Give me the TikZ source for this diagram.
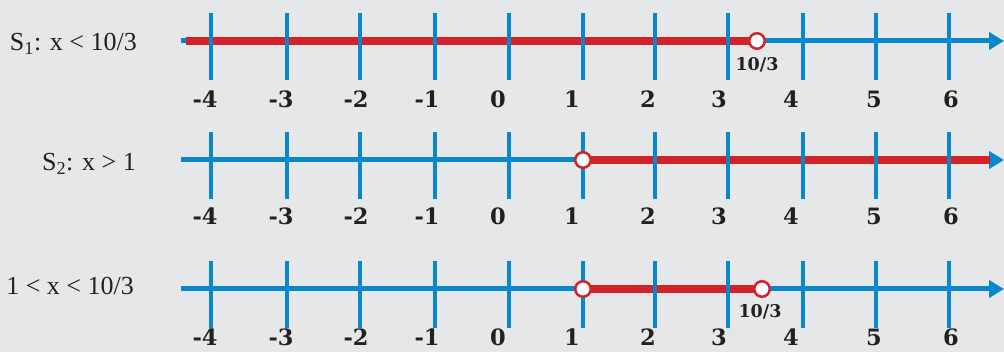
\documentclass[tikz,border=0pt]{standalone}
\usepackage{fontspec}
\setmainfont{Liberation Serif}
\newfontfamily\numfont{DejaVu Serif}
\usetikzlibrary{arrows.meta, positioning}
\definecolor{lineBlue}{HTML}{0788CE}
\definecolor{setRed}{HTML}{D2232A}
\definecolor{paperGrey}{HTML}{E6E7E8}
\definecolor{inkDark}{HTML}{231F20}
\tikzset{
  numaxis/.style={draw=lineBlue, line width=5pt, -{Triangle[length=15pt,width=17pt]}},
  tickmark/.style={draw=lineBlue, line width=4.8pt},
  solset/.style={draw=setRed, line width=7.5pt},
  openpt/.style={circle, draw=setRed, fill=white, line width=2.5pt, inner sep=0pt, minimum size=15.5pt},
  setlabel/.style={anchor=base east, inner sep=0pt, text=inkDark, font=\fontsize{26}{30}\selectfont},
  numlabel/.style={inner sep=0pt, text=inkDark, font=\numfont\bfseries\fontsize{22.5}{26}\selectfont},
  fraclabel/.style={inner sep=0pt, text=inkDark, font=\numfont\bfseries\fontsize{17.5}{20}\selectfont},
}

\begin{document}
\begin{tikzpicture}[x=1pt, y=-1pt]
\fill[paperGrey] (0,0) rectangle (1004,352);
\clip (0,0) rectangle (1004,352);
% set labels
\node[setlabel] (s1) at (137,51) {S\textsubscript{1}: x < 10/3};
\node[setlabel] (s2) at (136,171) {S\textsubscript{2}: x > 1};
\node[setlabel] (s12) at (134,295) {1 < x < 10/3};
% number lines
\foreach \row/\yy in {1/41, 2/160, 3/289} {
  \coordinate (a\row) at (181,\yy);
  \coordinate (e\row) at (1004,\yy);
  \draw[numaxis] (a\row) -- (e\row);
}
% solution sets
\coordinate (r1) at (186,41);
\coordinate (p1) at (757,41);
\coordinate (p2) at (583,160);
\coordinate (r2) at (990,160);
\coordinate (p3) at (583,289);
\coordinate (q3) at (762,289);
\draw[solset] (r1) -- (p1);
\draw[solset] (p2) -- (r2);
\draw[solset] (p3) -- (q3);
% ticks and numbers
\foreach \row/\yy/\dy in {1/41/58, 2/160/56, 3/289/48}
  \foreach \tx/\lx/\v in {211/205/-4, 287/281/-3, 360/356/-2, 435/427/-1, 509/498/0,
                          583/572/1, 655/648/2, 728/719/3, 803/791/4, 876/874/5, 949/951/6} {
    \draw[tickmark] (\tx,\yy-28) -- (\tx,\yy+39);
    \node[numlabel] (n\row\v) at (\lx,\yy+\dy) {\v};
  }
% open end points
\node[openpt] (o1) at (p1) {};
\node[openpt] (o2) at (p2) {};
\node[openpt] (o3a) at (p3) {};
\node[openpt] (o3b) at (q3) {};
\node[fraclabel] (f1) at (757,65) {10/3};
\node[fraclabel] (f3) at (760,312) {10/3};
\end{tikzpicture}
\end{document}
